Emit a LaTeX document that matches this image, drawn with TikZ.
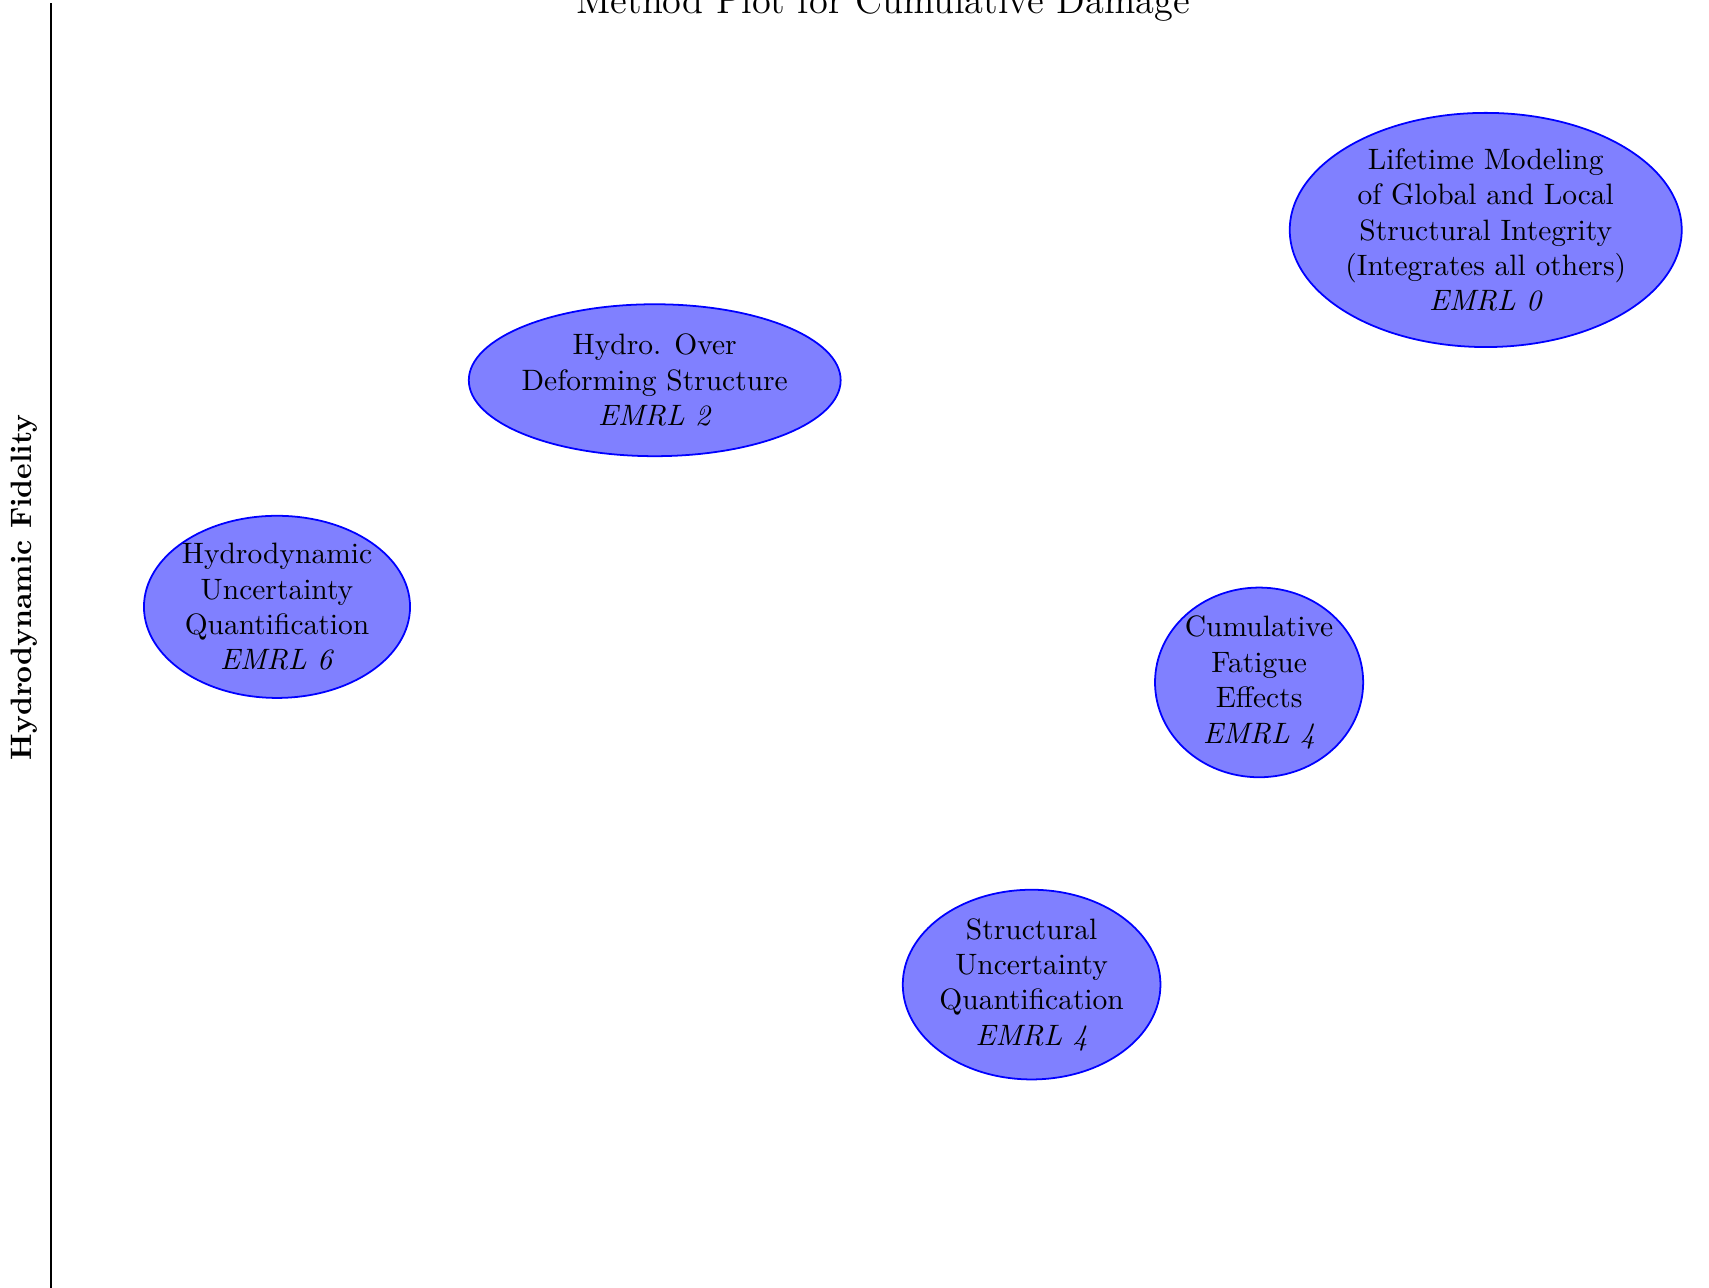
\documentclass[tikz,border=0pt]{standalone}
\usetikzlibrary{shapes.geometric}
\begin{document}
\begin{tikzpicture}
        \tikzstyle{method}=[ellipse, draw=blue, fill=blue!50, line width=0.6pt, inner sep=0pt]
        \tikzstyle{methodtext}=[align=center, inner sep=0pt]
        \useasboundingbox (0,0) rectangle (20.36,15.34);
        % axis and labels
        \coordinate (axistop) at (0.608,15.30);
        \coordinate (axisbot) at (0.608,0);
        \draw [black, line width=0.6pt] (axisbot) -- (axistop);
        \node (title) [anchor=base] at (10.52,15.18) {\fontsize{13}{16}\selectfont Method Plot for Cumulative Damage};
        \node (ylabel) [rotate=90] at (0.286,8.34) {\bfseries Hydrodynamic Fidelity};
        % methods
        \node (lifetime) [method, minimum width=4.67cm, minimum height=2.79cm] at (17.70,12.60) {};
        \node (lifetimetext) [methodtext] at (lifetime.center) {Lifetime Modeling\\of Global and Local\\Structural Integrity\\(Integrates all others)\\\textit{EMRL 0}};
        \node (hydroover) [method, minimum width=4.43cm, minimum height=1.81cm] at (7.80,10.81) {};
        \node (hydroovertext) [methodtext] at (hydroover.center) {Hydro. Over\\Deforming Structure\\\textit{EMRL 2}};
        \node (hydrouq) [method, minimum width=3.17cm, minimum height=2.17cm] at (3.30,8.11) {};
        \node (hydrouqtext) [methodtext] at (hydrouq.center) {Hydrodynamic\\Uncertainty\\Quantification\\\textit{EMRL 6}};
        \node (fatigue) [method, minimum width=2.48cm, minimum height=2.26cm] at (15.00,7.21) {};
        \node (fatiguetext) [methodtext] at (fatigue.center) {Cumulative\\Fatigue\\Effects\\\textit{EMRL 4}};
        \node (structuq) [method, minimum width=3.07cm, minimum height=2.26cm] at (12.29,3.61) {};
        \node (structuqtext) [methodtext] at (structuq.center) {Structural\\Uncertainty\\Quantification\\\textit{EMRL 4}};
\end{tikzpicture}
\end{document}
